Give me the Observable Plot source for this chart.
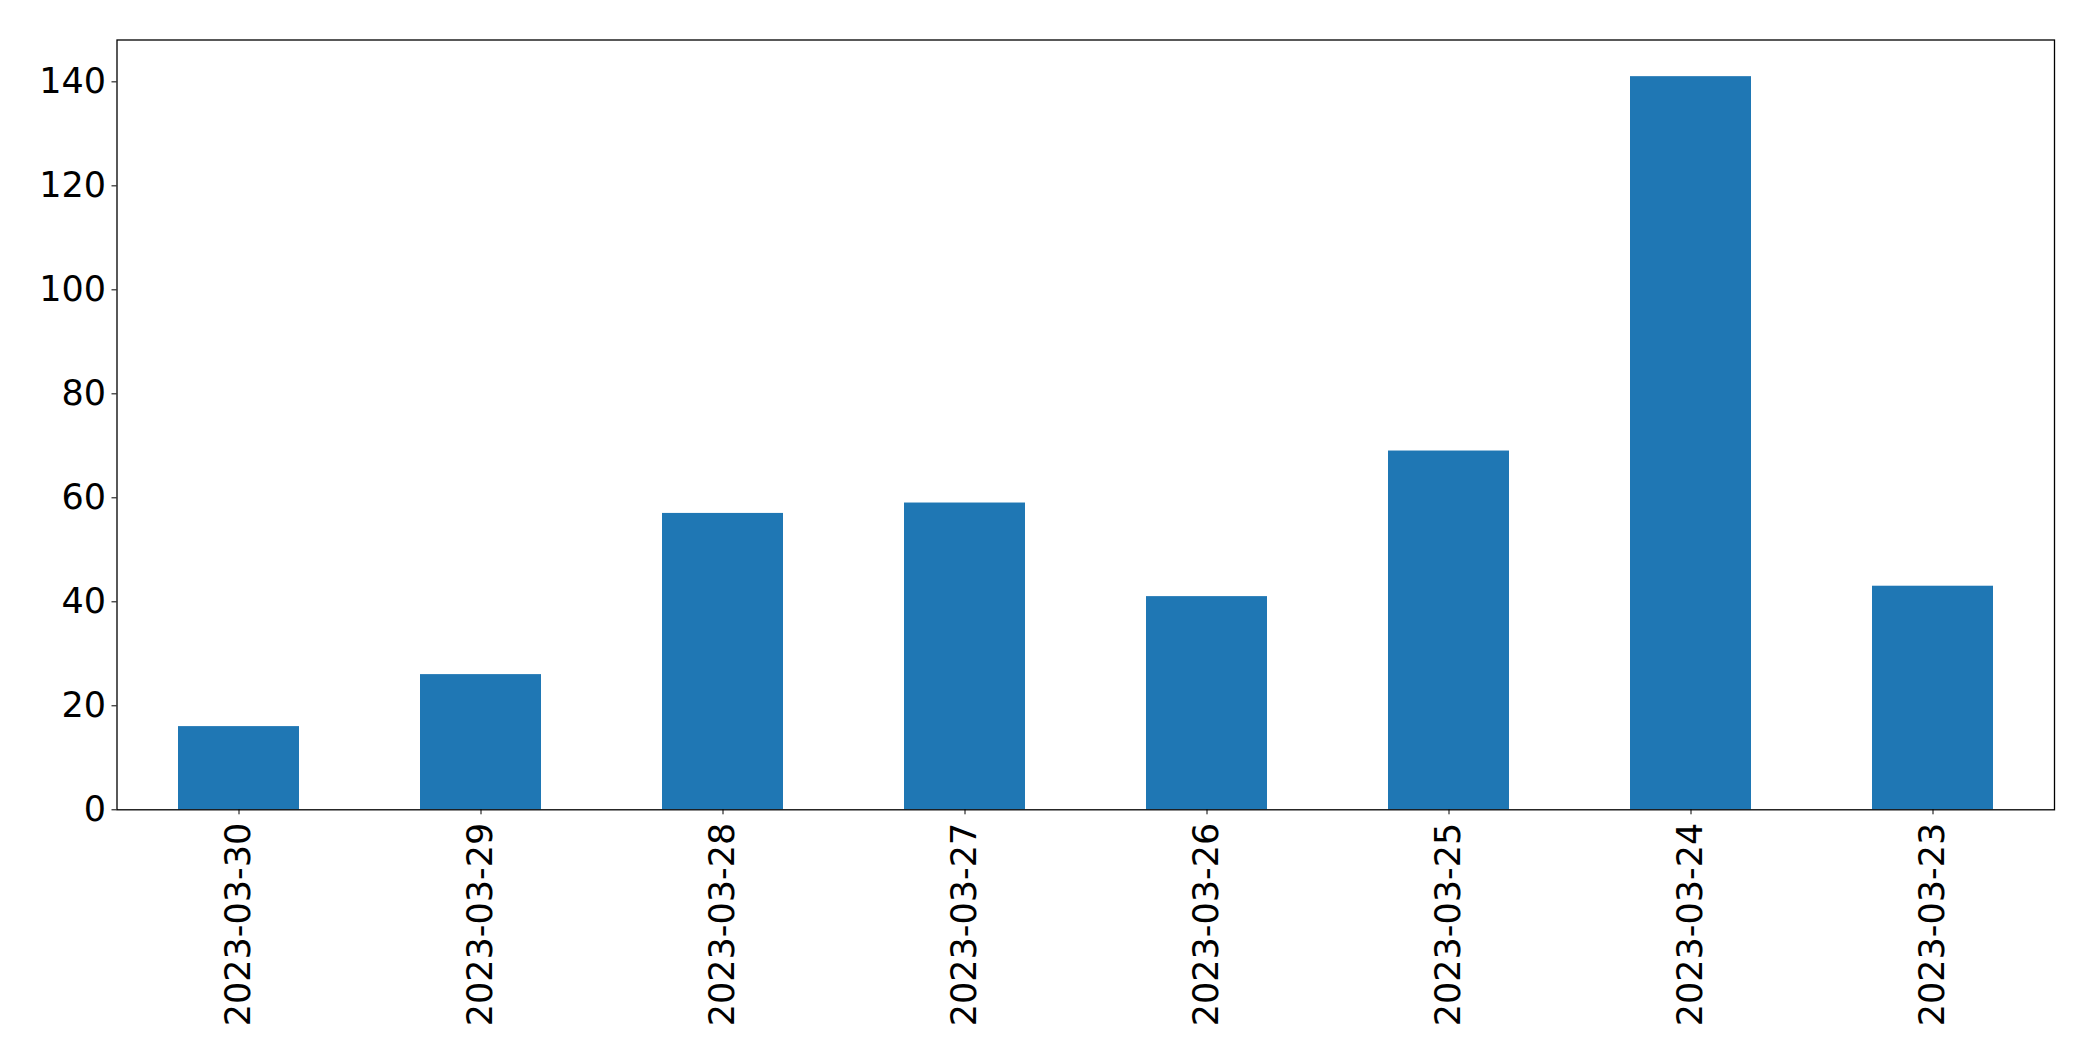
<!DOCTYPE html>
<html>
<head>
<meta charset="utf-8">
<script src="https://cdn.jsdelivr.net/npm/d3@7"></script>
<script src="https://cdn.jsdelivr.net/npm/@observablehq/plot@0.6"></script>
<style>
  html, body { margin: 0; padding: 0; background: #fff; }
  #chart svg { display: block; }
</style>
</head>
<body>
<div id="chart"></div>
<script>
const dates = ["2023-03-30", "2023-03-29", "2023-03-28", "2023-03-27", "2023-03-26", "2023-03-25", "2023-03-24", "2023-03-23"];
const counts = [16, 26, 57, 59, 41, 69, 141, 43];
const yTicks = [0, 20, 40, 60, 80, 100, 120, 140];

const data = dates.map((d, i) => ({date: d, count: counts[i]}));

const chart = Plot.plot({
  width: 2093,
  height: 1061,
  marginLeft: 116.5,
  marginRight: 39,
  marginTop: 39.5,
  marginBottom: 251.7,
  style: {fontFamily: "DejaVu Sans", fontSize: "35px", color: "black", background: "white"},
  x: {domain: dates, paddingInner: 0.5, paddingOuter: 0.25, label: null},
  y: {domain: [0, 141 * 1.05], label: null},
  marks: [
    Plot.barY(data, {x: "date", y: "count", fill: "#1f77b4"}),
    Plot.axisY({ticks: yTicks, tickSize: 5, tickPadding: 6, fontSize: 35, label: null}),
    Plot.axisX({tickSize: 5, tickPadding: 8, tickRotate: -90, fontSize: 35, label: null}),
    Plot.frame({stroke: "black", strokeWidth: 1.3})
  ]
});
document.getElementById("chart").appendChild(chart);
</script>
</body>
</html>
